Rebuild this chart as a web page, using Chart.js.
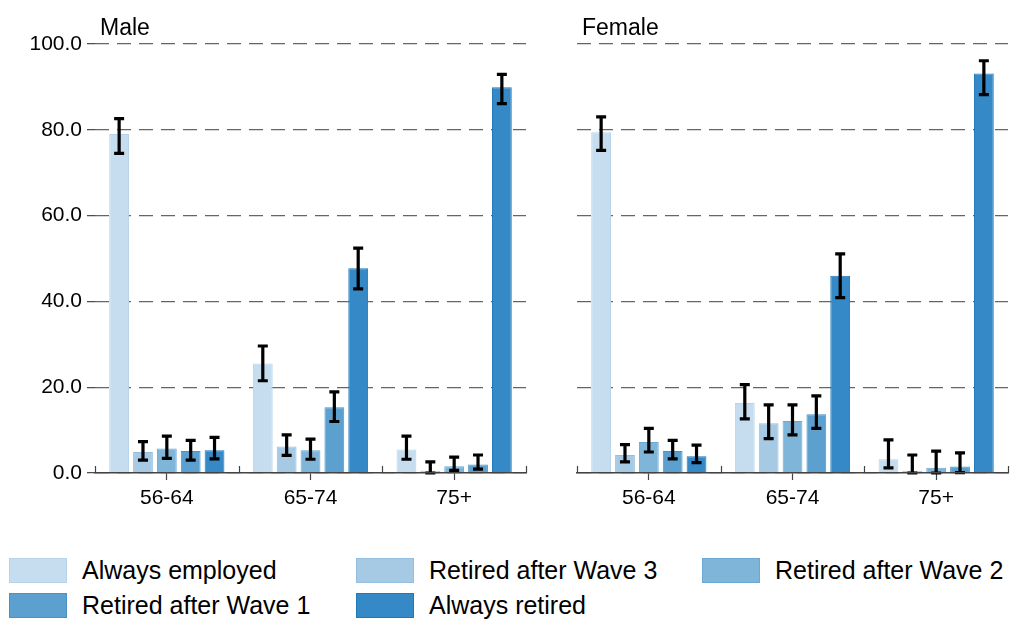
<!DOCTYPE html>
<html>
<head>
<meta charset="utf-8">
<script src="https://cdn.jsdelivr.net/npm/chart.js@4/dist/chart.umd.min.js"></script>
<style>
  html, body { margin:0; padding:0; background:#fff; }
  body { width:1014px; height:619px; position:relative; overflow:hidden; font-family:"Liberation Sans", Arial, sans-serif; }
  canvas { position:absolute; top:0; }
  #male { left:0; }
  #female { left:540px; }
  .leg { position:absolute; display:flex; align-items:center; font-size:25px; color:#000; white-space:nowrap; }
  .leg .sw { width:56px; height:23px; border:1px solid; margin-right:15px; }
</style>
</head>
<body>
<canvas id="male" width="540" height="511"></canvas>
<canvas id="female" width="474" height="511"></canvas>
<div id="legend"></div>
<script>
const categories = ['56-64', '65-74', '75+'];
const seriesNames = ['Always employed', 'Retired after Wave 3', 'Retired after Wave 2', 'Retired after Wave 1', 'Always retired'];
const fills = ['#c6ddef', '#a6c9e4', '#80b5da', '#5ca0cf', '#3589c6'];
const borders = ['#b6d3ea', '#95bfe0', '#6ba8d4', '#4892c8', '#1f78b9'];
const yTicks = [0, 20, 40, 60, 80, 100];

// Male
const maleVals = [
  [79.0, 25.5, 5.5],
  [4.9, 6.2, 0.5],
  [5.7, 5.3, 1.6],
  [5.1, 15.3, 2.0],
  [5.3, 47.7, 89.9]
];
const maleLo = [
  [74.5, 21.5, 3.2],
  [3.0, 4.1, 0.0],
  [3.4, 3.2, 0.6],
  [3.0, 12.0, 0.9],
  [3.3, 42.9, 86.1]
];
const maleHi = [
  [82.6, 29.6, 8.6],
  [7.3, 8.9, 2.6],
  [8.6, 7.9, 3.7],
  [7.6, 18.9, 4.2],
  [8.3, 52.4, 92.9]
];

// Female
const femaleVals = [
  [79.4, 16.3, 3.2],
  [4.2, 11.6, 0.5],
  [7.2, 12.1, 1.2],
  [5.1, 13.7, 1.5],
  [3.9, 46.0, 93.1]
];
const femaleLo = [
  [75.2, 12.6, 1.2],
  [2.6, 8.0, 0.0],
  [4.9, 8.9, 0.0],
  [3.3, 10.4, 0.1],
  [2.4, 40.9, 88.2]
];
const femaleHi = [
  [83.0, 20.6, 7.7],
  [6.6, 15.9, 4.2],
  [10.4, 15.9, 5.1],
  [7.6, 18.0, 4.7],
  [6.5, 51.1, 96.1]
];

(function(){
  const FONT = '"Liberation Sans", Arial, sans-serif';

  // error bars drawn from lo/hi arrays through the y scale
  const errorBars = {
    id: 'errorBars',
    afterDatasetsDraw(chart){
      const ctx = chart.ctx;
      const ys = chart.scales.y;
      ctx.save();
      ctx.strokeStyle = '#000';
      ctx.lineWidth = 3.2;
      ctx.lineCap = 'butt';
      chart.data.datasets.forEach((ds, i) => {
        const meta = chart.getDatasetMeta(i);
        meta.data.forEach((bar, j) => {
          const x = bar.x;
          const y1 = ys.getPixelForValue(ds.lo[j]);
          const y2 = ys.getPixelForValue(ds.hi[j]);
          ctx.beginPath();
          ctx.moveTo(x, y1); ctx.lineTo(x, y2);
          ctx.moveTo(x - 5, y1); ctx.lineTo(x + 5, y1);
          ctx.moveTo(x - 5, y2); ctx.lineTo(x + 5, y2);
          ctx.stroke();
        });
      });
      ctx.restore();
    }
  };

  // panel title with a white backing, plus upward boundary ticks on the x axis
  const panelDeco = {
    id: 'panelDeco',
    afterDraw(chart, args, opts){
      const ctx = chart.ctx;
      const a = chart.chartArea;
      ctx.save();
      ctx.strokeStyle = '#444';
      ctx.lineWidth = 1.2;
      const n = chart.data.labels.length;
      const w = (a.right - a.left) / n;
      for(let k = 0; k <= n; k++){
        const x = Math.round(a.left + k * w) + 0.5;
        ctx.beginPath();
        ctx.moveTo(x, a.bottom - 7);
        ctx.lineTo(x, a.bottom);
        ctx.stroke();
      }
      ctx.font = '23px ' + FONT;
      const tw = ctx.measureText(opts.text).width;
      ctx.fillStyle = '#fff';
      ctx.fillRect(a.left + 1, a.top - 28, tw + 18, 26);
      ctx.fillStyle = '#000';
      ctx.textBaseline = 'middle';
      ctx.fillText(opts.text, a.left + 5, a.top - 15);
      ctx.restore();
    }
  };

  function makeChart(id, title, vals, lo, hi, showY, yWidth, padRight){
    const datasets = seriesNames.map((name, i) => ({
      label: name,
      data: vals[i],
      lo: lo[i],
      hi: hi[i],
      backgroundColor: fills[i],
      borderColor: borders[i],
      borderWidth: 1,
      categoryPercentage: 0.83,
      barPercentage: 0.83
    }));
    return new Chart(document.getElementById(id).getContext('2d'), {
      type: 'bar',
      data: { labels: categories, datasets: datasets },
      options: {
        responsive: false,
        animation: false,
        layout: { padding: { top: 44, right: padRight, bottom: 0, left: 0 } },
        plugins: {
          legend: { display: false },
          tooltip: { enabled: false },
          panelDeco: { text: title }
        },
        scales: {
          x: {
            grid: { display: true, offset: false, drawOnChartArea: false, drawTicks: true, tickLength: 7, tickColor: '#444', tickWidth: 1.2 },
            border: { display: true, color: '#444', width: 1.5, z: 1 },
            ticks: { color: '#000', font: { family: FONT, size: 21 }, padding: 6 },
            afterFit: s => { s.height = 38; }
          },
          y: {
            min: 0, max: 100,
            afterBuildTicks: s => { s.ticks = yTicks.map(v => ({ value: v })); },
            grid: { color: '#666', lineWidth: 1.3, drawTicks: showY, tickLength: 8, tickColor: '#444', tickWidth: 1.2 },
            border: { display: false, dash: [14, 8] },
            ticks: { display: showY, color: '#000', font: { family: FONT, size: 21 }, padding: 5,
                     callback: v => Number(v).toFixed(1) },
            afterFit: s => { s.width = yWidth; }
          }
        }
      },
      plugins: [errorBars, panelDeco]
    });
  }

  makeChart('male', 'Male', maleVals, maleLo, maleHi, true, 95, 14);
  makeChart('female', 'Female', femaleVals, femaleLo, femaleHi, false, 37, 6);

  // legend: 3 columns, 2 rows
  const legend = document.getElementById('legend');
  const colX = [9, 356, 702];
  const rowY = [556, 591];
  seriesNames.forEach((name, i) => {
    const d = document.createElement('div');
    d.className = 'leg';
    d.style.left = colX[i % 3] + 'px';
    d.style.top = rowY[Math.floor(i / 3)] + 'px';
    const sw = document.createElement('span');
    sw.className = 'sw';
    sw.style.background = fills[i];
    sw.style.borderColor = borders[i];
    const t = document.createElement('span');
    t.textContent = name;
    d.appendChild(sw); d.appendChild(t);
    legend.appendChild(d);
  });
})();
</script>
</body>
</html>
